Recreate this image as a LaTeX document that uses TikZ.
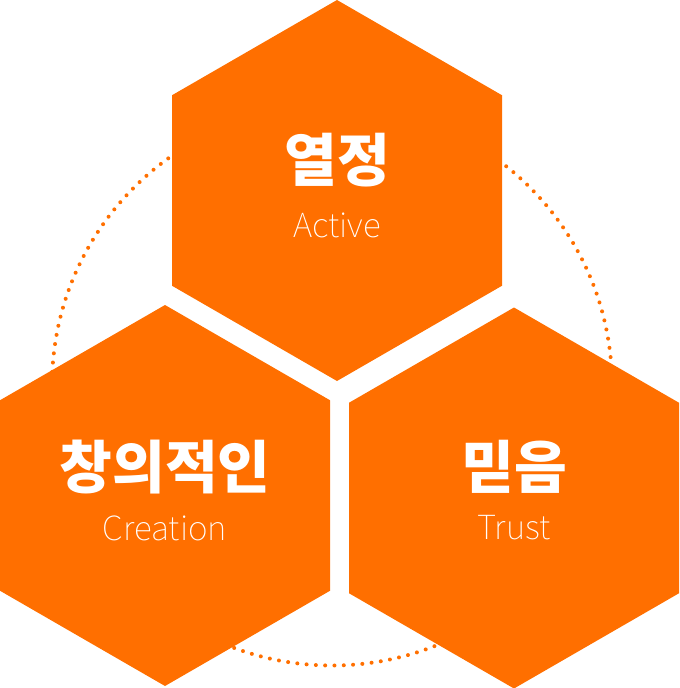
\documentclass[tikz,border=0pt]{standalone}
\usepackage{fontspec}
\usetikzlibrary{calc}
\newfontfamily\krfont{Noto Sans CJK KR}
\newfontfamily\krthin{Noto Sans CJK KR Thin}
\definecolor{hexorange}{RGB}{255,111,0}
\tikzset{
  hexfill/.style={fill=hexorange, draw=none},
  ktitle/.style={text=white, font=\krfont\bfseries\fontsize{43}{48}\selectfont, inner sep=0pt},
  etitle/.style={text=white, font=\krthin\fontsize{25}{28}\selectfont, inner sep=0pt},
  dotring/.style={draw=hexorange, line width=3pt, line cap=round, dash pattern=on 0pt off 6.98pt}
}
\begin{document}
\begin{tikzpicture}[x=0.75pt, y=-0.75pt]
\useasboundingbox (0,0) rectangle (679,688);
% dotted ring
\coordinate (ringc) at (332,385.5);
\draw[dotring] (ringc) circle[radius=280];
% top hexagon
\coordinate (topc) at (337,190.5);
\fill[hexfill] ($(topc)+(0,-190.5)$) -- ++(165,95.25) -- ++(0,190.5) -- ++(-165,95.25) -- ++(-165,-95.25) -- ++(0,-190.5) -- cycle;
% left hexagon
\coordinate (leftc) at (165,495.5);
\fill[hexfill] ($(leftc)+(0,-190.5)$) -- ++(165,95.25) -- ++(0,190.5) -- ++(-165,95.25) -- ++(-165,-95.25) -- ++(0,-190.5) -- cycle;
% right hexagon
\coordinate (rightc) at (514,498);
\fill[hexfill] ($(rightc)+(0,-190.5)$) -- ++(165,95.25) -- ++(0,190.5) -- ++(-165,95.25) -- ++(-165,-95.25) -- ++(0,-190.5) -- cycle;
% texts
\node[ktitle] (t1) at (337,160) {열정};
\node[etitle] (e1) at (337,225) {Active};
\node[ktitle] (t2) at (165,467) {창의적인};
\node[etitle] (e2) at (165,528) {Creation};
\node[ktitle] (t3) at (514,467) {믿음};
\node[etitle] (e3) at (514,528) {Trust};
\end{tikzpicture}
\end{document}
